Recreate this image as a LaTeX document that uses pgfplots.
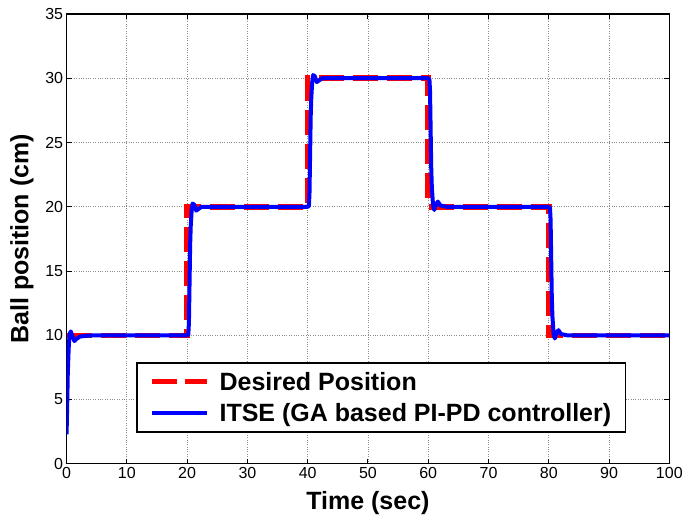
\documentclass[border=0pt]{standalone}
\usepackage{pgfplots}
\pgfplotsset{compat=1.18}
\usepackage{fontspec}
\setmainfont{Liberation Sans}

\begin{document}
\begin{tikzpicture}
\begin{axis}[
    width=603bp, height=450bp,
    scale only axis,
    xmin=0, xmax=100, ymin=0, ymax=35,
    xtick={0,10,...,100},
    ytick={0,5,...,35},
    grid=major,
    major grid style={dotted, line width=0.8bp, black!45},
    axis line style={line width=1.3bp},
    tick style={line width=1bp, black},
    tick align=inside,
    major tick length=5bp,
    /pgf/number format/assume math mode=true,
    tick label style={font=\fontsize{16bp}{18bp}\selectfont},
    xlabel={Time (sec)},
    ylabel={Ball position (cm)},
    label style={font=\fontsize{25bp}{28bp}\selectfont\bfseries},
    xlabel style={at={(axis description cs:0.5,-0.087)}, anchor=center},
    ylabel style={at={(axis description cs:-0.074,0.5)}, anchor=center},
    legend style={at={(axis description cs:0.116,0.069)}, anchor=south west,
        draw=black, line width=1.3bp,
        font=\fontsize{25bp}{30bp}\selectfont\bfseries,
        inner xsep=12bp, inner ysep=7bp, row sep=8bp, column sep=8bp},
    legend cell align=left,
]
\addplot[red, line width=5.5bp, dash pattern=on 25bp off 9bp,
    legend image code/.code={
        \draw[red, line width=5.5bp] (0bp,0bp) -- (25bp,0bp) (33bp,0bp) -- (55bp,0bp);}]
    coordinates {
    (0,10) (20,10) (20,20) (40,20) (40,30) (60,30) (60,20) (80,20) (80,10) (100,10)
};
\addlegendentry{Desired Position}

\addplot[blue, line width=4bp, line join=round,
    legend image code/.code={
        \draw[blue, line width=4bp] (0bp,0bp) -- (55bp,0bp);}]
    coordinates {
    (0,2.3) (0.1,4.5) (0.2,7) (0.35,9) (0.5,10.1) (0.7,10.3) (1.0,9.9)
    (1.3,9.55) (1.6,9.7) (2.2,9.9) (3.5,9.97) (5,10)
    (20,10) (20.2,10.05) (20.3,11) (20.4,14) (20.5,17) (20.6,18.5)
    (20.75,19.7) (20.9,20.25) (21.2,20.15) (21.5,19.7) (21.8,19.8) (22.4,20)
    (40,20) (40.2,20.05) (40.3,21) (40.4,24) (40.5,27) (40.6,28.5)
    (40.75,29.7) (40.9,30.25) (41.2,30.15) (41.5,29.7) (41.8,29.8) (42.4,30)
    (60,30) (60.2,29.9) (60.3,29) (60.4,26) (60.5,23) (60.6,21.5)
    (60.8,20.1) (61,19.75) (61.3,20.2) (61.6,20.4) (62,20.1) (63,20)
    (80,20) (80.2,19.9) (80.3,19) (80.4,16) (80.5,13) (80.6,11.5)
    (80.8,10.1) (81,9.75) (81.3,10.2) (81.6,10.4) (82,10.1) (83,10)
    (100,10)
};
\addlegendentry{ITSE (GA based PI-PD controller)}
\end{axis}
\path ([xshift=-7bp]current axis.outer west) ([yshift=5bp]current axis.outer north);
\end{tikzpicture}
\end{document}
